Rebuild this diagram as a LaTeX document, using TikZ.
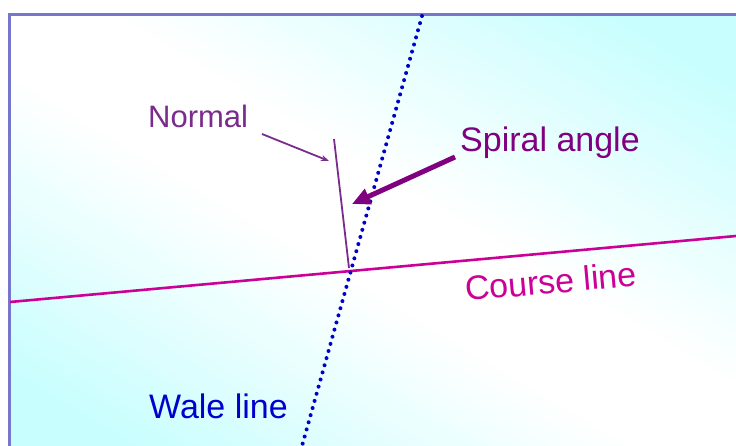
\documentclass[tikz,border=0pt]{standalone}
\usepackage{fontspec}
\setmainfont{Liberation Sans}
\usetikzlibrary{arrows.meta}
\definecolor{bgcyan}{RGB}{200,254,254}
\definecolor{framecol}{RGB}{118,118,204}
\definecolor{normalcol}{RGB}{122,44,140}
\definecolor{spiralcol}{RGB}{128,0,128}
\definecolor{coursecol}{RGB}{204,0,150}
\definecolor{walecol}{RGB}{0,0,204}
\tikzset{
  lab/.style={font=\fontsize{34}{40}\selectfont, inner sep=0pt, anchor=base west},
  normalline/.style={draw=normalcol, line width=1.8pt},
  waleline/.style={draw=walecol, line width=4pt, line cap=round, dash pattern=on 0pt off 7.4pt},
  courseline/.style={draw=coursecol, line width=2.6pt},
  spiralarrow/.style={draw=spiralcol, line width=5pt, -{Triangle[length=18pt,width=16pt]}},
  framestyle/.style={draw=framecol, line width=2.6pt}
}
\begin{document}
\begin{tikzpicture}[x=1pt,y=-1pt]
\useasboundingbox (0,0) rectangle (736,446);
\fill[white] (0,0) rectangle (736,446);
\begin{scope}
\clip (10,15) rectangle (736,446);
\foreach \i in {0,...,74} {
  \pgfmathsetmacro{\s}{-375+10*\i}
  \pgfmathsetmacro{\t}{abs(\s+5)/370}
  \pgfmathtruncatemacro{\p}{max(0,min(100,(\t-0.14)/0.70*100))}
  \pgfmathsetmacro{\ax}{373+0.511*\s}
  \pgfmathsetmacro{\ay}{230.5-0.860*\s}
  \pgfmathsetmacro{\bx}{373+0.511*(\s+11)}
  \pgfmathsetmacro{\by}{230.5-0.860*(\s+11)}
  \fill[bgcyan!\p!white] (\ax+516,\ay+306.6) -- (\ax-516,\ay-306.6) -- (\bx-516,\by-306.6) -- (\bx+516,\by+306.6) -- cycle;
}
\end{scope}
\draw[framestyle] (9.5,446) -- (9.5,14.5) -- (736,14.5);
% coordinates
\coordinate (X) at (349,268);
\coordinate (ntop) at (334,139);
\coordinate (wtop) at (422,16);
\coordinate (wbot) at (302,446);
\coordinate (cl) at (10,302);
\coordinate (cr) at (736,236);
\coordinate (ntail) at (262,134);
\coordinate (nhead) at (329,161);
\coordinate (stail) at (455,157);
\coordinate (shead) at (352,204);
% lines
\draw[courseline] (cl) -- (cr);
\draw[waleline] (wtop) -- (wbot);
\draw[normalline] (ntop) -- (X);
\draw[normalline, -{Stealth[length=8pt,width=6pt]}] (ntail) -- (nhead);
\draw[spiralarrow] (stail) -- (shead);
% labels
\node[lab, text=normalcol, font=\fontsize{31}{36}\selectfont] (normal) at (148,128) {Normal};
\node[lab, text=spiralcol] (spiral) at (460,152) {Spiral angle};
\node[lab, text=walecol] (wale) at (149,418) {Wale line};
\node[lab, text=coursecol, rotate=5] (course) at (466,301) {Course line};
\end{tikzpicture}
\end{document}
